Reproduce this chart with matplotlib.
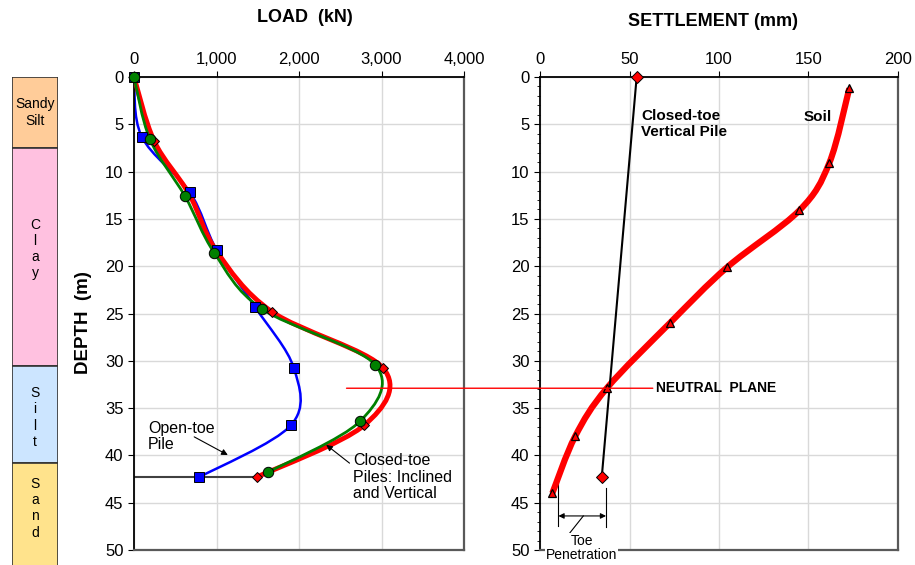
import numpy as np
import matplotlib
matplotlib.use('Agg')
import matplotlib.pyplot as plt
from matplotlib.path import Path
from matplotlib.patches import PathPatch, ConnectionPatch

plt.rcParams['font.family'] = ['Liberation Sans', 'DejaVu Sans']

# load distribution along the piles (kN) vs depth (m)
open_load = [0, 93, 679, 1002, 1467, 1939, 1903, 792]
open_depth = [0, 6.3, 12.2, 18.3, 24.3, 30.8, 36.8, 42.3]
incl_load = [0, 194, 618, 974, 1547, 2921, 2739, 1620]
incl_depth = [0, 6.6, 12.6, 18.6, 24.5, 30.4, 36.4, 41.8]
vert_load = [0, 246, 670, 1000, 1669, 3022, 2792, 1487]
vert_depth = [0, 6.8, 12.4, 18.4, 24.8, 30.8, 36.8, 42.3]

# settlement (mm) vs depth (m)
soil_settle = [172.8, 161.6, 144.9, 104.6, 72.6, 37.3, 19.6, 6.9]
soil_depth = [1.2, 9.1, 14.1, 20.1, 26.0, 32.9, 38.0, 44.0]
pile_settle = [54, 34.5]
pile_depth = [0, 42.3]

neutral_depth = 32.9
neutral_load_start = 2576
neutral_settle_end = 63

toe_settle = [10.3, 36.9]

# soil profile
layer_names = ['Sandy\nSilt', 'C\nl\na\ny', 'S\ni\nl\nt', 'S\na\nn\nd']
layer_top = [0, 7.5, 30.5, 40.8]
layer_bottom = [7.5, 30.5, 40.8, 60]
layer_label_depth = [3.75, 18.2, 36.0, 45.6]
layer_colors = ['#FFCC99', '#FFC1E0', '#CCE5FF', '#FFE38C']

load_ticks = [0, 1000, 2000, 3000, 4000]
load_labels = ['0', '1,000', '2,000', '3,000', '4,000']
settle_ticks = [0, 50, 100, 150, 200]
depth_ticks = list(range(0, 51, 5))


def smooth_path(xs, ys):
    # Excel-like smoothed line: cubic Bezier through the points
    pts = np.column_stack([xs, ys]).astype(float)
    n = len(pts)
    verts = [pts[0]]
    codes = [Path.MOVETO]
    for i in range(n - 1):
        p0 = pts[max(i - 1, 0)]
        p1 = pts[i]
        p2 = pts[i + 1]
        p3 = pts[min(i + 2, n - 1)]
        verts += [p1 + (p2 - p0) / 6, p2 - (p3 - p1) / 6, p2]
        codes += [Path.CURVE4] * 3
    return Path(verts, codes)


def style_axes(ax):
    ax.set_ylim(50, 0)
    ax.set_yticks(depth_ticks)
    ax.xaxis.tick_top()
    ax.tick_params(direction='out', labelsize=12, length=4, color='black')
    ax.grid(True, color='#d9d9d9', lw=1)
    ax.set_axisbelow(True)
    for s in ['left', 'top']:
        ax.spines[s].set_color('black')
        ax.spines[s].set_linewidth(1.3)
    for s in ['right', 'bottom']:
        ax.spines[s].set_color('#595959')
        ax.spines[s].set_linewidth(1.6)


fig = plt.figure(figsize=(9.15, 5.65), dpi=100)
W, H = 915, 565
top_px, bot_px = 77, 550
ax_h = (bot_px - top_px) / H
ax1 = fig.add_axes([134 / W, 1 - bot_px / H, (464 - 134) / W, ax_h])
ax2 = fig.add_axes([540 / W, 1 - bot_px / H, (898 - 540) / W, ax_h])
soil_ax = fig.add_axes([12 / W, 0, 46 / W, 1 - top_px / H])

# ---- load plot
style_axes(ax1)
ax1.set_xlim(0, 4000)
ax1.set_xticks(load_ticks)
ax1.set_xticklabels(load_labels)

ax1.add_patch(PathPatch(smooth_path(open_load, open_depth), fill=False,
                        edgecolor='#0000FF', lw=1.8, zorder=2))
ax1.add_patch(PathPatch(smooth_path(vert_load, vert_depth), fill=False,
                        edgecolor='#FF0000', lw=3.5, zorder=3))
ax1.add_patch(PathPatch(smooth_path(incl_load, incl_depth), fill=False,
                        edgecolor='#008000', lw=2, zorder=4))
ax1.plot([0, vert_load[-1]], [vert_depth[-1]] * 2, color='#404040', lw=1.5, zorder=2)
ax1.plot(vert_load, vert_depth, 'D', color='#FF0000', mec='black', mew=0.7, ms=5, zorder=5, clip_on=False)
ax1.plot(open_load, open_depth, 's', color='#0000FF', mec='black', mew=0.7, ms=7, zorder=6, clip_on=False)
ax1.plot(incl_load, incl_depth, 'o', color='#008000', mec='black', mew=0.7, ms=7.5, zorder=7, clip_on=False)

ax1.text(170, 38.0, 'Open-toe\nPile', fontsize=11.5, va='center', linespacing=1.15)
ax1.annotate('', xy=(1167, 40.1), xytext=(700, 37.9),
             arrowprops=dict(arrowstyle='-|>', color='black', lw=0.8, mutation_scale=9))
ax1.text(2660, 42.3, 'Closed-toe\nPiles: Inclined\nand Vertical', fontsize=11.5,
         va='center', linespacing=1.15)
ax1.annotate('', xy=(2303, 38.7), xytext=(2639, 41.0),
             arrowprops=dict(arrowstyle='-|>', color='black', lw=0.8, mutation_scale=9))

# ---- settlement plot
style_axes(ax2)
ax2.set_xlim(0, 200)
ax2.set_xticks(settle_ticks)
ax2.set_yticks(range(0, 51), minor=True)
ax2.tick_params(axis='y', which='minor', direction='out', length=2.5, color='black')

ax2.add_patch(PathPatch(smooth_path(soil_settle, soil_depth), fill=False,
                        edgecolor='#FF0000', lw=4.5, zorder=3))
ax2.plot(soil_settle, soil_depth, '^', color='#FF0000', mec='black', mew=0.9, ms=6, zorder=5)
ax2.plot(pile_settle, pile_depth, '-', color='black', lw=1.5, zorder=4)
ax2.plot(pile_settle, pile_depth, 'D', color='#FF0000', mec='black', mew=0.7, ms=6, zorder=6, clip_on=False)

ax2.text(56.5, 5.0, 'Closed-toe\nVertical Pile', fontsize=11, fontweight='bold',
         va='center', linespacing=1.15)
ax2.text(147, 4.2, 'Soil', fontsize=11, fontweight='bold', va='center')
ax2.text(65, neutral_depth, 'NEUTRAL  PLANE', fontsize=10, fontweight='bold', va='center')

# toe penetration dimension
ax2.plot([toe_settle[0]] * 2, [42.6, 47.5], color='black', lw=0.8)
ax2.plot([toe_settle[1]] * 2, [43.4, 47.6], color='black', lw=0.8)
ax2.annotate('', xy=(toe_settle[0], 46.4), xytext=(toe_settle[1], 46.4),
             arrowprops=dict(arrowstyle='<|-|>', color='black', lw=0.8, mutation_scale=8,
                             shrinkA=0, shrinkB=0))
ax2.plot([24.2, 15.8], [46.4, 48.4], color='black', lw=0.8)
ax2.text(23.3, 49.8, 'Toe\nPenetration', fontsize=10, ha='center', va='center',
         linespacing=1.05, clip_on=False, zorder=10,
         bbox=dict(facecolor='white', edgecolor='none', pad=0.5))

# neutral plane line across both plots
fig.add_artist(ConnectionPatch(xyA=(neutral_load_start, neutral_depth), coordsA=ax1.transData,
                               xyB=(neutral_settle_end, neutral_depth), coordsB=ax2.transData,
                               color='#FF0000', lw=1))

# ---- soil column
soil_ax.set_xlim(0, 1)
soil_ax.set_ylim(50 * (1 - top_px / H) / ax_h, 0)
soil_ax.axis('off')
for name, t, b, d, c in zip(layer_names, layer_top, layer_bottom, layer_label_depth, layer_colors):
    soil_ax.axhspan(t, b, facecolor=c, edgecolor='#333333', lw=1.2)
    soil_ax.text(0.5, d, name, ha='center', va='center', fontsize=10, linespacing=1.2)

fig.text(305 / W, 1 - 17 / H, 'LOAD  (kN)', fontsize=13, fontweight='bold', ha='center', va='center')
fig.text(713 / W, 1 - 22 / H, 'SETTLEMENT (mm)', fontsize=13, fontweight='bold', ha='center', va='center')
fig.text(84 / W, 1 - 323 / H, 'DEPTH  (m)', fontsize=13.5, fontweight='bold', ha='center',
         va='center', rotation=90)

fig.savefig('out.png', dpi=100)
